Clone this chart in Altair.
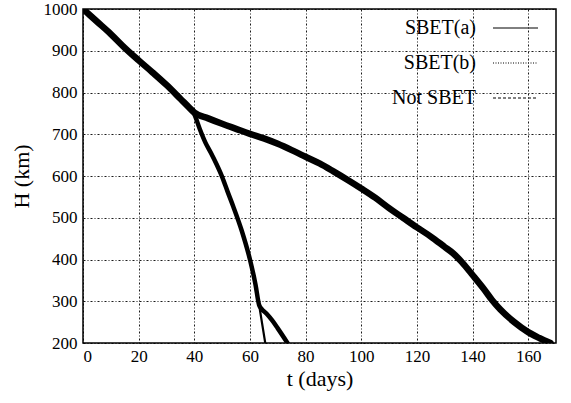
import altair as alt
import pandas as pd

# Orbit-decay curves: altitude H (km) versus time t (days)
trunk_t = [0, 5, 10, 15, 20, 25, 30, 35, 38]
trunk_h = [1000, 970, 940, 907, 877, 848, 818, 785, 765]

sbet_a_t = [40, 45, 50, 55, 60, 65, 70, 75, 80, 85, 90, 95, 100, 105, 110, 115, 120,
            125, 130, 133, 136, 140, 144, 147, 150, 155, 160, 164, 168]
sbet_a_h = [752, 738, 725, 713, 701, 690, 677, 662, 646, 630, 611, 591, 570, 548, 523, 500, 477,
            455, 430, 415, 395, 363, 330, 303, 280, 250, 226, 212, 200]

steep_t = [40, 42, 44, 46, 48, 50, 52, 54, 57, 60, 62, 63.3]
steep_h = [748, 712, 680, 655, 628, 598, 562, 527, 470, 400, 340, 291]

sbet_b_tail_t = [64, 66, 68, 70, 73.5]
sbet_b_tail_h = [283, 270, 254, 235, 200]

not_sbet_tail_t = [65.5]
not_sbet_tail_h = [200]

series_names = ["SBET(a)", "SBET(b)", "Not SBET"]
legend_dash = [[1, 0], [1, 1.5], [3, 2]]

def frame(name, ts, hs):
    return pd.DataFrame({"t": ts, "H": hs, "series": name})

df_a = frame("SBET(a)", trunk_t + sbet_a_t, trunk_h + sbet_a_h)
df_b = frame("SBET(b)", trunk_t + steep_t + sbet_b_tail_t, trunk_h + steep_h + sbet_b_tail_h)
df_n = frame("Not SBET", trunk_t + steep_t + not_sbet_tail_t, trunk_h + steep_h + not_sbet_tail_h)

FONT = "Liberation Serif"

x_scale = alt.Scale(domain=[0, 170], nice=False, zero=False)
y_scale = alt.Scale(domain=[200, 1000], nice=False, zero=False)

x_axis = alt.Axis(values=[0, 20, 40, 60, 80, 100, 120, 140, 160], title="t (days)",
                  format="d", grid=True, gridColor="black", gridDash=[2, 2, 1, 2],
                  gridOpacity=0.9, domain=False, ticks=False, labelPadding=5, titlePadding=4)
y_axis = alt.Axis(values=[200, 300, 400, 500, 600, 700, 800, 900, 1000], title="H (km)",
                  format="d", grid=True, gridColor="black", gridDash=[2, 2, 1, 2],
                  gridOpacity=0.9, domain=False, ticks=False, labelPadding=6, titlePadding=10)

def curve(df, width):
    return alt.Chart(df).mark_line(color="black", strokeWidth=width, clip=True,
                                   interpolate="monotone",
                                   strokeJoin="round", strokeCap="round").encode(
        x=alt.X("t:Q", scale=x_scale, axis=x_axis),
        y=alt.Y("H:Q", scale=y_scale, axis=y_axis),
        order="t:Q",
    )

layers = [curve(df_a, 6.5), curve(df_b, 4.5), curve(df_n, 2.2)]

# Key: label on the left, line sample on the right
for i, (name, dash) in enumerate(zip(series_names, legend_dash)):
    row_y = 19 + 35 * i
    layers.append(
        alt.Chart(pd.DataFrame({"label": [name]})).mark_text(
            align="right", baseline="middle", font=FONT, fontSize=20, color="black"
        ).encode(x=alt.value(393), y=alt.value(row_y), text="label:N")
    )
    layers.append(
        alt.Chart(pd.DataFrame({"label": [name]})).mark_rule(
            color="black", strokeWidth=1, strokeDash=dash
        ).encode(x=alt.value(410), x2=alt.value(455), y=alt.value(row_y))
    )

chart = alt.layer(*layers).properties(
    width=473, height=334,
    autosize=alt.AutoSizeParams(type="none"),
    padding={"left": 83, "top": 9, "right": 15, "bottom": 60},
    background="white",
).configure_view(
    stroke="black", strokeWidth=1.5
).configure_axis(
    labelFont=FONT, labelFontSize=17, labelColor="black",
    titleFont=FONT, titleFontSize=22, titleFontWeight="normal", titleColor="black",
)

chart.save("out.html", embed_options={"renderer": "svg", "actions": False})
